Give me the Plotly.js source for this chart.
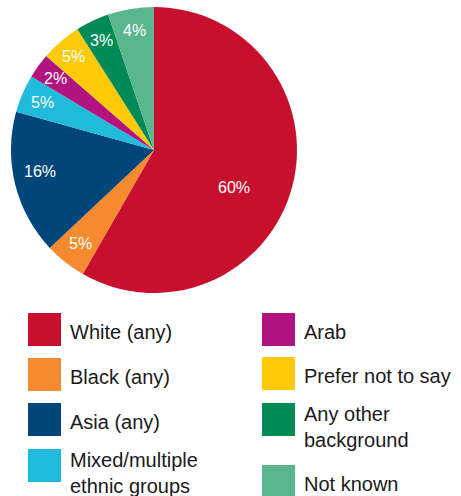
<!DOCTYPE html>
<html>
<head>
<meta charset="utf-8">
<script src="https://cdn.plot.ly/plotly-3.0.1.min.js"></script>
<style>
html,body{margin:0;padding:0;background:#fff;}
#chart{width:461px;height:496px;}
</style>
</head>
<body>
<div id="chart"></div>
<script>
// Data
const categories = ['White (any)', 'Black (any)', 'Asia (any)', 'Mixed/multiple<br>ethnic groups', 'Arab', 'Prefer not to say', 'Any other<br>background', 'Not known'];
const sliceValues = [58.3, 4.7, 16.3, 4.3, 2.8, 4.6, 3.8, 5.2];
const shownLabels = ['60%', '5%', '16%', '5%', '2%', '5%', '3%', '4%'];
const colors = ['#C8102E', '#F58A2F', '#00467A', '#20BBDA', '#B1137F', '#FFCB08', '#008A58', '#5AB78D'];

const W = 461, H = 496;
const px = x => x / W;
const py = y => 1 - y / H;

// pie geometry (layout)
const pieL = 11, pieR = 297, pieT = 7, pieB = 293;
const cx = (pieL + pieR) / 2, cy = (pieT + pieB) / 2, R = (pieR - pieL) / 2;

const trace = {
  type: 'pie',
  labels: categories,
  values: sliceValues,
  textinfo: 'none',
  sort: false,
  direction: 'clockwise',
  rotation: 0,
  marker: {colors: colors, line: {width: 0}},
  domain: {x: [px(pieL), px(pieR)], y: [py(pieB), py(pieT)]},
  showlegend: false,
  hoverinfo: 'none'
};

const shapes = [];
const annotations = [];

// Percentage labels placed at the middle angle of each slice
const labelRadiusFrac = [0.62, 0.83, 0.81, 0.85, 0.85, 0.86, 0.85, 0.85];
const labelAngleShift = [10, 0, 3, 0, 0, 0, 0, 0];
const total = sliceValues.reduce((a, b) => a + b, 0);
let cum = 0;
sliceValues.forEach((v, i) => {
  const mid = (cum + v / 2) / total * 360 + labelAngleShift[i];
  cum += v;
  const a = mid * Math.PI / 180;
  const r = R * labelRadiusFrac[i];
  const x = cx + r * Math.sin(a), y = cy - r * Math.cos(a);
  annotations.push({xref: 'paper', yref: 'paper', x: px(x), y: py(y),
    xanchor: 'center', yanchor: 'middle', showarrow: false, text: shownLabels[i],
    font: {size: 16, color: '#ffffff', family: 'Liberation Sans, Arial, sans-serif'}});
});

// Custom two-column legend layout
const colX = [28, 262];
const rowY = [[313, 358, 403, 449], [313, 357, 403, 465]];
const sq = 33;
categories.forEach((c, i) => {
  const col = i < 4 ? 0 : 1;
  const row = i % 4;
  const x0 = colX[col], y0 = rowY[col][row];
  shapes.push({type: 'rect', xref: 'paper', yref: 'paper',
    x0: px(x0), x1: px(x0 + sq), y0: py(y0 + sq), y1: py(y0),
    fillcolor: colors[i], line: {width: 0}});
  const twoLine = c.indexOf('<br>') >= 0;
  annotations.push({xref: 'paper', yref: 'paper', x: px(x0 + 40), y: py(y0 + sq/2 + (twoLine ? 7 : 2)),
    xanchor: 'left', yanchor: 'middle', align: 'left', showarrow: false, text: c,
    font: {size: 20, color: '#1a1a1a', family: 'Liberation Sans, Arial, sans-serif'}});
});

const layout = {
  width: W, height: H,
  margin: {l: 0, r: 0, t: 0, b: 0},
  paper_bgcolor: '#ffffff',
  shapes: shapes,
  annotations: annotations,
  showlegend: false
};

Plotly.newPlot('chart', [trace], layout, {displayModeBar: false, staticPlot: true});
</script>
</body>
</html>
